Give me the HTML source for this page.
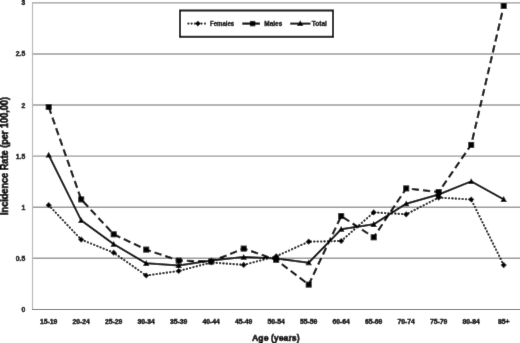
<!DOCTYPE html><html><head><meta charset="utf-8"><style>html,body{margin:0;padding:0;background:#fff;width:520px;height:343px;overflow:hidden}svg{display:block;will-change:transform}text{font-family:"Liberation Sans",sans-serif;font-weight:bold;fill:#000}</style></head><body>
<svg width="520" height="343" viewBox="0 0 520 343"><defs><filter id="b" x="0" y="0" width="520" height="343" filterUnits="userSpaceOnUse"><feConvolveMatrix order="3" kernelMatrix="0.00524 0.06192 0.00524 0.06192 0.73137 0.06192 0.00524 0.06192 0.00524" edgeMode="duplicate" preserveAlpha="true"/></filter></defs><g filter="url(#b)"><rect width="520" height="343" fill="#fff"/>
<line x1="32.5" y1="258.31" x2="520" y2="258.31" stroke="#9a9a9a" stroke-width="1.4"/>
<line x1="32.5" y1="207.23" x2="520" y2="207.23" stroke="#9a9a9a" stroke-width="1.4"/>
<line x1="32.5" y1="156.14" x2="520" y2="156.14" stroke="#9a9a9a" stroke-width="1.4"/>
<line x1="32.5" y1="105.06" x2="520" y2="105.06" stroke="#9a9a9a" stroke-width="1.4"/>
<line x1="32.5" y1="53.97" x2="520" y2="53.97" stroke="#9a9a9a" stroke-width="1.4"/>
<line x1="32.5" y1="2.89" x2="520" y2="2.89" stroke="#9a9a9a" stroke-width="1.4"/>
<line x1="32.5" y1="2" x2="32.5" y2="309" stroke="#b8b8b8" stroke-width="1.2"/>
<line x1="32" y1="309.5" x2="520" y2="309.5" stroke="#707070" stroke-width="1.2"/>
<text x="25.3" y="311.90" font-size="6.8" stroke="#000" stroke-width="0.45" text-anchor="end">0</text>
<text x="25.3" y="260.81" font-size="6.8" stroke="#000" stroke-width="0.45" text-anchor="end">0.5</text>
<text x="25.3" y="209.73" font-size="6.8" stroke="#000" stroke-width="0.45" text-anchor="end">1</text>
<text x="25.3" y="158.64" font-size="6.8" stroke="#000" stroke-width="0.45" text-anchor="end">1.5</text>
<text x="25.3" y="107.56" font-size="6.8" stroke="#000" stroke-width="0.45" text-anchor="end">2</text>
<text x="25.3" y="56.47" font-size="6.8" stroke="#000" stroke-width="0.45" text-anchor="end">2.5</text>
<text x="25.3" y="5.39" font-size="6.8" stroke="#000" stroke-width="0.45" text-anchor="end">3</text>
<text x="48.7" y="323.8" font-size="6.8" stroke="#000" stroke-width="0.45" text-anchor="middle">15-19</text>
<text x="81.2" y="323.8" font-size="6.8" stroke="#000" stroke-width="0.45" text-anchor="middle">20-24</text>
<text x="113.7" y="323.8" font-size="6.8" stroke="#000" stroke-width="0.45" text-anchor="middle">25-29</text>
<text x="146.2" y="323.8" font-size="6.8" stroke="#000" stroke-width="0.45" text-anchor="middle">30-34</text>
<text x="178.7" y="323.8" font-size="6.8" stroke="#000" stroke-width="0.45" text-anchor="middle">35-39</text>
<text x="211.2" y="323.8" font-size="6.8" stroke="#000" stroke-width="0.45" text-anchor="middle">40-44</text>
<text x="243.7" y="323.8" font-size="6.8" stroke="#000" stroke-width="0.45" text-anchor="middle">45-49</text>
<text x="276.2" y="323.8" font-size="6.8" stroke="#000" stroke-width="0.45" text-anchor="middle">50-54</text>
<text x="308.7" y="323.8" font-size="6.8" stroke="#000" stroke-width="0.45" text-anchor="middle">55-59</text>
<text x="341.2" y="323.8" font-size="6.8" stroke="#000" stroke-width="0.45" text-anchor="middle">60-64</text>
<text x="373.7" y="323.8" font-size="6.8" stroke="#000" stroke-width="0.45" text-anchor="middle">65-69</text>
<text x="406.2" y="323.8" font-size="6.8" stroke="#000" stroke-width="0.45" text-anchor="middle">70-74</text>
<text x="438.7" y="323.8" font-size="6.8" stroke="#000" stroke-width="0.45" text-anchor="middle">75-79</text>
<text x="471.2" y="323.8" font-size="6.8" stroke="#000" stroke-width="0.45" text-anchor="middle">80-84</text>
<text x="503.7" y="323.8" font-size="6.8" stroke="#000" stroke-width="0.45" text-anchor="middle">85+</text>
<text x="252" y="341.2" font-size="9.8" stroke="#000" stroke-width="0.6" textLength="47.6" lengthAdjust="spacingAndGlyphs">Age (years)</text>
<text transform="translate(8.1,215) rotate(-90)" x="0" y="0" font-size="10" stroke="#000" stroke-width="0.6" textLength="118" lengthAdjust="spacingAndGlyphs">Incidence Rate (per 100,00)</text>
<polyline points="48.7,205.2 81.2,239.6 113.7,252.7 146.2,275.5 178.7,271.0 211.2,262.5 243.7,264.9 276.2,256.3 308.7,241.7 341.2,241.0 373.7,212.4 406.2,214.3 438.7,197.6 471.2,199.5 503.7,265.1" fill="none" stroke="#000" stroke-width="2.1" stroke-dasharray="0.3 3.1" stroke-linecap="round"/>
<polyline points="48.7,107.0 81.2,199.4 113.7,234.3 146.2,249.6 178.7,260.6 211.2,261.5 243.7,248.6 276.2,259.8 308.7,284.6 341.2,216.1 373.7,237.3 406.2,188.4 438.7,192.0 471.2,144.9 503.7,6.0" fill="none" stroke="#000" stroke-width="2.2" stroke-dasharray="7.3 3.9"/>
<polyline points="48.7,155.0 81.2,220.4 113.7,244.1 146.2,263.3 178.7,265.5 211.2,260.5 243.7,257.1 276.2,258.5 308.7,262.7 341.2,229.2 373.7,224.3 406.2,203.7 438.7,194.5 471.2,181.4 503.7,199.3" fill="none" stroke="#000" stroke-width="2" stroke-linejoin="round"/>
<polygon points="48.7,202.1 51.8,205.2 48.7,208.3 45.6,205.2" fill="#000"/>
<polygon points="81.2,236.5 84.3,239.6 81.2,242.7 78.1,239.6" fill="#000"/>
<polygon points="113.7,249.6 116.8,252.7 113.7,255.8 110.6,252.7" fill="#000"/>
<polygon points="146.2,272.4 149.3,275.5 146.2,278.6 143.1,275.5" fill="#000"/>
<polygon points="178.7,267.9 181.8,271.0 178.7,274.1 175.6,271.0" fill="#000"/>
<polygon points="211.2,259.4 214.3,262.5 211.2,265.6 208.1,262.5" fill="#000"/>
<polygon points="243.7,261.8 246.8,264.9 243.7,268.0 240.6,264.9" fill="#000"/>
<polygon points="276.2,253.2 279.3,256.3 276.2,259.4 273.1,256.3" fill="#000"/>
<polygon points="308.7,238.6 311.8,241.7 308.7,244.8 305.6,241.7" fill="#000"/>
<polygon points="341.2,237.9 344.3,241.0 341.2,244.1 338.1,241.0" fill="#000"/>
<polygon points="373.7,209.3 376.8,212.4 373.7,215.5 370.6,212.4" fill="#000"/>
<polygon points="406.2,211.2 409.3,214.3 406.2,217.4 403.1,214.3" fill="#000"/>
<polygon points="438.7,194.5 441.8,197.6 438.7,200.7 435.6,197.6" fill="#000"/>
<polygon points="471.2,196.4 474.3,199.5 471.2,202.6 468.1,199.5" fill="#000"/>
<polygon points="503.7,262.0 506.8,265.1 503.7,268.2 500.6,265.1" fill="#000"/>
<rect x="45.7" y="104.0" width="6.0" height="6.0" fill="#000"/>
<rect x="78.2" y="196.4" width="6.0" height="6.0" fill="#000"/>
<rect x="110.7" y="231.3" width="6.0" height="6.0" fill="#000"/>
<rect x="143.2" y="246.6" width="6.0" height="6.0" fill="#000"/>
<rect x="175.7" y="257.6" width="6.0" height="6.0" fill="#000"/>
<rect x="208.2" y="258.5" width="6.0" height="6.0" fill="#000"/>
<rect x="240.7" y="245.6" width="6.0" height="6.0" fill="#000"/>
<rect x="273.2" y="256.8" width="6.0" height="6.0" fill="#000"/>
<rect x="305.7" y="281.6" width="6.0" height="6.0" fill="#000"/>
<rect x="338.2" y="213.1" width="6.0" height="6.0" fill="#000"/>
<rect x="370.7" y="234.3" width="6.0" height="6.0" fill="#000"/>
<rect x="403.2" y="185.4" width="6.0" height="6.0" fill="#000"/>
<rect x="435.7" y="189.0" width="6.0" height="6.0" fill="#000"/>
<rect x="468.2" y="141.9" width="6.0" height="6.0" fill="#000"/>
<rect x="500.7" y="3.0" width="6.0" height="6.0" fill="#000"/>
<polygon points="48.7,151.8 51.9,157.6 45.5,157.6" fill="#000"/>
<polygon points="81.2,217.2 84.4,223.0 78.0,223.0" fill="#000"/>
<polygon points="113.7,240.9 116.9,246.7 110.5,246.7" fill="#000"/>
<polygon points="146.2,260.1 149.4,265.9 143.0,265.9" fill="#000"/>
<polygon points="178.7,262.3 181.9,268.1 175.5,268.1" fill="#000"/>
<polygon points="211.2,257.3 214.4,263.1 208.0,263.1" fill="#000"/>
<polygon points="243.7,253.9 246.9,259.7 240.5,259.7" fill="#000"/>
<polygon points="276.2,255.3 279.4,261.1 273.0,261.1" fill="#000"/>
<polygon points="308.7,259.5 311.9,265.3 305.5,265.3" fill="#000"/>
<polygon points="341.2,226.0 344.4,231.8 338.0,231.8" fill="#000"/>
<polygon points="373.7,221.1 376.9,226.9 370.5,226.9" fill="#000"/>
<polygon points="406.2,200.5 409.4,206.3 403.0,206.3" fill="#000"/>
<polygon points="438.7,191.3 441.9,197.1 435.5,197.1" fill="#000"/>
<polygon points="471.2,178.2 474.4,184.0 468.0,184.0" fill="#000"/>
<polygon points="503.7,196.1 506.9,201.9 500.5,201.9" fill="#000"/>
<rect x="180" y="10.5" width="153" height="26.3" fill="#fff" stroke="#000" stroke-width="2"/>
<circle cx="188.4" cy="23.6" r="1.1" fill="#000"/>
<circle cx="191.6" cy="23.6" r="1.1" fill="#000"/>
<circle cx="194.9" cy="23.6" r="1.1" fill="#000"/>
<circle cx="201.5" cy="23.6" r="1.1" fill="#000"/>
<circle cx="205.0" cy="23.6" r="1.1" fill="#000"/>
<polygon points="197.9,20.8 200.9,23.6 197.9,26.4 194.9,23.6" fill="#000"/>
<text x="210" y="25.9" font-size="7" stroke="#000" stroke-width="0.35" textLength="24.2" lengthAdjust="spacingAndGlyphs">Females</text>
<line x1="242.3" y1="23.6" x2="260" y2="23.6" stroke="#000" stroke-width="2.2"/>
<rect x="249.9" y="20.9" width="5.4" height="5.4" fill="#000"/>
<text x="264.3" y="25.9" font-size="7" stroke="#000" stroke-width="0.35" textLength="18" lengthAdjust="spacingAndGlyphs">Males</text>
<line x1="290.2" y1="23.6" x2="310.5" y2="23.6" stroke="#000" stroke-width="2"/>
<polygon points="300.2,20.2 303.4,26.0 297.0,26.0" fill="#000"/>
<text x="311.8" y="25.9" font-size="7" stroke="#000" stroke-width="0.35" textLength="15" lengthAdjust="spacingAndGlyphs">Total</text>
</g></svg></body></html>
